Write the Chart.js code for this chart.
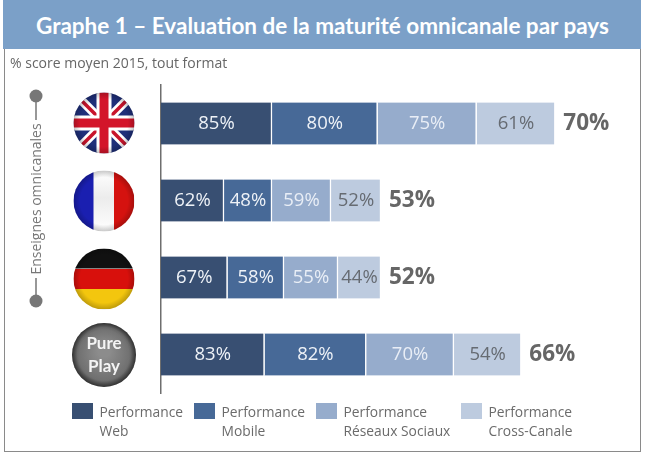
<!DOCTYPE html>
<html lang="fr">
<head>
<meta charset="utf-8">
<title>Graphe 1</title>
<script src="https://cdn.jsdelivr.net/npm/chart.js@4/dist/chart.umd.js"></script>
<style>
  html, body { margin: 0; background: #fff; }
  #page { position: relative; width: 650px; height: 454px; overflow: hidden; }
  #frame { position: absolute; left: 4px; top: 48px; width: 635px; height: 403px; border: 1.5px solid #8a8a8a; border-top: 0; }
  #band { position: absolute; left: 3px; top: 0; width: 638px; height: 49px; background: #7ba0c8; color: #fff;
    font: bold 22.5px Lato, sans-serif; line-height: 51px; text-indent: 33px; white-space: nowrap; }
  #sub { position: absolute; left: 10px; top: 53px; color: #666; font: 14px "Open Sans", sans-serif; white-space: nowrap; }
  canvas { position: absolute; left: 0; top: 0; }
</style>
</head>
<body>
<div id="page">
  <div id="frame"></div>
  <canvas id="chart" width="650" height="454"></canvas>
  <div id="band">Graphe 1 – Evaluation de la maturité omnicanale par pays</div>
  <div id="sub">% score moyen 2015, tout format</div>
</div>
<script>
const rows = ["UK", "France", "Allemagne", "Pure Play"];

// printed scores
const webScores = [85, 62, 67, 83];
const mobileScores = [80, 48, 58, 82];
const socialScores = [75, 59, 55, 70];
const crossScores = [61, 52, 44, 54];
const totals = [70, 53, 52, 66];

// bar lengths as drawn in the picture (rows are not on one common scale there)
const webLengths = [111, 63, 66.5, 103.5];
const mobileLengths = [105.6, 48, 56.5, 101.7];
const socialLengths = [99, 59, 54, 87.7];
const crossLengths = [78.7, 50, 43, 67.4];

const seriesNames = [
  ["Performance", "Web"],
  ["Performance", "Mobile"],
  ["Performance", "Réseaux Sociaux"],
  ["Performance", "Cross-Canale"]
];
const seriesColors = ["#384f72", "#476997", "#96accc", "#bdcbdf"];
const labelColors = ["#eef2f7", "#eef2f7", "#e9eef6", "#666b72"];
const legendX = [72, 194, 316, 461];
const sideLabel = "Enseignes omnicanales";

const segmentLabels = {
  id: "segmentLabels",
  afterDatasetsDraw(chart) {
    const ctx = chart.ctx;
    const scores = [webScores, mobileScores, socialScores, crossScores];
    ctx.save();
    ctx.textAlign = "center";
    ctx.textBaseline = "middle";
    ctx.font = '18.5px "Open Sans", sans-serif';
    scores.forEach((values, s) => {
      const meta = chart.getDatasetMeta(s);
      values.forEach((value, i) => {
        const bar = meta.data[i];
        ctx.fillStyle = labelColors[s];
        ctx.fillText(`${value}%`, (bar.base + bar.x) / 2, bar.y + 0.5);
      });
    });
    const last = chart.getDatasetMeta(3);
    ctx.textAlign = "left";
    ctx.font = 'bold 22.5px "Open Sans", sans-serif';
    ctx.fillStyle = "#666";
    totals.forEach((value, i) => {
      ctx.fillText(`${value}%`, last.data[i].x + 8, last.data[i].y + 0.5);
    });
    ctx.restore();
  }
};

function drawUk(ctx, x, y, r) {
  ctx.fillStyle = "#1f2f7a";
  ctx.fillRect(x - r, y - r, 2 * r, 2 * r);
  ctx.lineCap = "butt";
  const line = (color, width, x1, y1, x2, y2) => {
    ctx.strokeStyle = color;
    ctx.lineWidth = width;
    ctx.beginPath();
    ctx.moveTo(x1, y1);
    ctx.lineTo(x2, y2);
    ctx.stroke();
  };
  line("#fff", 9, x - r, y - r, x + r, y + r);
  line("#fff", 9, x - r, y + r, x + r, y - r);
  line("#c8142c", 3.5, x - r, y - r, x + r, y + r);
  line("#c8142c", 3.5, x - r, y + r, x + r, y - r);
  line("#fff", 15, x - r, y, x + r, y);
  line("#fff", 15, x, y - r, x, y + r);
  line("#d3152a", 9, x - r, y, x + r, y);
  line("#d3152a", 9, x, y - r, x, y + r);
}

function drawFrance(ctx, x, y, r) {
  const white = ctx.createLinearGradient(x, y - r, x, y + r);
  white.addColorStop(0, "#ffffff");
  white.addColorStop(0.45, "#ececec");
  white.addColorStop(1, "#ffffff");
  ctx.fillStyle = white;
  ctx.fillRect(x - r, y - r, 2 * r, 2 * r);
  ctx.fillStyle = "#1a1fb0";
  ctx.fillRect(x - r, y - r, 20, 2 * r);
  ctx.fillStyle = "#d5120f";
  ctx.fillRect(x + 10, y - r, 20, 2 * r);
}

function drawGermany(ctx, x, y, r) {
  ctx.fillStyle = "#111";
  ctx.fillRect(x - r, y - r, 2 * r, 20);
  ctx.fillStyle = "#d8100c";
  ctx.fillRect(x - r, y - 10, 2 * r, 20);
  ctx.fillStyle = "#f3c60e";
  ctx.fillRect(x - r, y + 10, 2 * r, 20);
}

function drawPurePlay(ctx, x, y, r) {
  const fill = ctx.createRadialGradient(x, y - 4, 6, x, y, r);
  fill.addColorStop(0, "#8c8c8c");
  fill.addColorStop(0.8, "#6f6f6f");
  fill.addColorStop(1, "#3f3f3f");
  ctx.fillStyle = fill;
  ctx.fillRect(x - r, y - r, 2 * r, 2 * r);
}

const flags = [drawUk, drawFrance, drawGermany, drawPurePlay];
const flagOffsets = [-0.5, 0.5, 1.5, 0.5];

const rowBadges = {
  id: "rowBadges",
  afterDraw(chart) {
    const ctx = chart.ctx;
    const yScale = chart.scales.y;
    rows.forEach((name, i) => {
      const x = 104;
      const y = yScale.getPixelForValue(i) + flagOffsets[i];
      const r = i === 3 ? 32 : 30.5;
      ctx.save();
      ctx.beginPath();
      ctx.arc(x, y, r, 0, Math.PI * 2);
      ctx.clip();
      flags[i](ctx, x, y, r);
      // soft shading on the rim so it reads as a glossy button
      const shade = ctx.createRadialGradient(x, y, r * 0.78, x, y, r);
      shade.addColorStop(0, "rgba(0,0,0,0)");
      shade.addColorStop(1, "rgba(0,0,0,0.22)");
      ctx.fillStyle = shade;
      ctx.fillRect(x - r, y - r, 2 * r, 2 * r);
      ctx.restore();
      if (i === 3) {
        ctx.save();
        ctx.fillStyle = "#f4f4f4";
        ctx.font = 'bold 17px Lato, sans-serif';
        ctx.textAlign = "center";
        ctx.textBaseline = "middle";
        ctx.fillText("Pure", x, y - 11);
        ctx.fillText("Play", x, y + 12);
        ctx.restore();
      }
    });

    // side bracket
    const mid = 199;
    ctx.save();
    ctx.strokeStyle = "#777";
    ctx.fillStyle = "#777";
    ctx.lineWidth = 1.5;
    ctx.beginPath();
    ctx.moveTo(36, 96);
    ctx.lineTo(36, 120);
    ctx.moveTo(36, 278);
    ctx.lineTo(36, 301);
    ctx.stroke();
    [96, 301].forEach((y) => {
      ctx.beginPath();
      ctx.arc(36, y, 6.5, 0, Math.PI * 2);
      ctx.fill();
    });
    ctx.translate(37, mid);
    ctx.rotate(-Math.PI / 2);
    ctx.textAlign = "center";
    ctx.textBaseline = "middle";
    ctx.font = '14px "Open Sans", sans-serif';
    ctx.fillText(sideLabel, 0, 0);
    ctx.restore();

    // legend
    ctx.save();
    ctx.font = '13.8px "Open Sans", sans-serif';
    ctx.textBaseline = "middle";
    seriesNames.forEach((lines, s) => {
      ctx.fillStyle = seriesColors[s];
      ctx.fillRect(legendX[s], 403, 21, 16);
      ctx.fillStyle = "#6b6b6b";
      ctx.fillText(lines[0], legendX[s] + 27.5, 413);
      ctx.fillText(lines[1], legendX[s] + 27.5, 432);
    });
    ctx.restore();
  }
};

const lengths = [webLengths, mobileLengths, socialLengths, crossLengths];

new Chart(document.getElementById("chart"), {
  type: "bar",
  data: {
    labels: rows,
    datasets: lengths.map((data, s) => ({
      label: seriesNames[s].join(" "),
      data,
      backgroundColor: seriesColors[s],
      borderColor: "#fff",
      borderWidth: { right: 1.5 },
      borderSkipped: false,
      barThickness: 42
    }))
  },
  options: {
    indexAxis: "y",
    responsive: false,
    animation: false,
    devicePixelRatio: 1,
    layout: { padding: { left: 161, top: 85, bottom: 61, right: 0 } },
    plugins: { legend: { display: false }, tooltip: { enabled: false } },
    scales: {
      x: { stacked: true, min: 0, max: 489, display: false },
      y: {
        stacked: true,
        grid: { display: false, drawTicks: false },
        ticks: { display: false },
        border: { display: true, color: "#6e6e6e", width: 1.5 }
      }
    }
  },
  plugins: [segmentLabels, rowBadges]
});
</script>
</body>
</html>
